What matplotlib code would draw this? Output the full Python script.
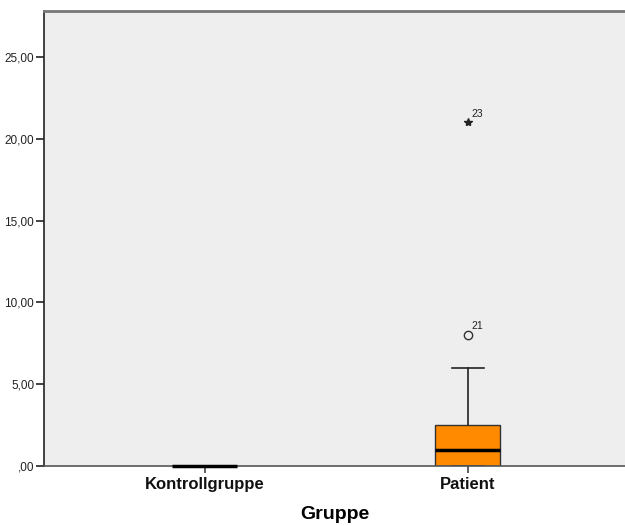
import matplotlib
matplotlib.use('Agg')
import matplotlib.pyplot as plt

plt.rcParams['font.family'] = ['Liberation Sans', 'DejaVu Sans']

# Five-number summaries per group
groups = ['Kontrollgruppe', 'Patient']
q1 = [0.0, 0.0]
medians = [0.0, 1.0]
q3 = [0.0, 2.5]
whisker_low = [0.0, 0.0]
whisker_high = [0.0, 6.0]

# Outliers (circle) and extreme values (star) with case numbers
outlier_group = [1]
outlier_value = [8.0]
outlier_case = ['21']
extreme_group = [1]
extreme_value = [21.0]
extreme_case = ['23']

yticks = [0, 5, 10, 15, 20, 25]
ytick_labels = [',00', '5,00', '10,00', '15,00', '20,00', '25,00']

stats = []
for i, name in enumerate(groups):
    stats.append({
        'label': name,
        'q1': q1[i], 'med': medians[i], 'q3': q3[i],
        'whislo': whisker_low[i], 'whishi': whisker_high[i],
        'fliers': [],
    })

fig = plt.figure(figsize=(6.25, 5.26), dpi=100)
ax = fig.add_axes([0.0704, 0.114, 0.9296, 0.865])
ax.set_facecolor('#eeeeee')

bp = ax.bxp(stats, positions=range(len(groups)), widths=0.247, patch_artist=True,
            showfliers=False,
            boxprops=dict(facecolor='#ff8a00', edgecolor='#333333', linewidth=1.0),
            medianprops=dict(color='black', linewidth=2.5),
            whiskerprops=dict(color='#222222', linewidth=1.2),
            capprops=dict(color='#222222', linewidth=1.2),
            capwidths=0.12)
for line in bp['medians']:
    line.set_zorder(5)
    line.set_clip_on(False)

ax.plot(outlier_group, outlier_value, 'o', mfc='none', mec='#333333', ms=6, mew=1.0)
ax.plot(extreme_group, extreme_value, '*', color='#222222', ms=6)
for g, v, c in zip(outlier_group, outlier_value, outlier_case):
    ax.text(g + 0.015, v + 0.35, c, fontsize=7.5, color='#222222')
for g, v, c in zip(extreme_group, extreme_value, extreme_case):
    ax.text(g + 0.015, v + 0.35, c, fontsize=7.5, color='#222222')

ax.set_xlim(-0.612, 1.597)
ax.set_ylim(0, 27.8)
ax.set_yticks(yticks)
ax.set_yticklabels(ytick_labels, fontsize=8.5, color='#222222')
ax.set_xticks(range(len(groups)))
ax.set_xticklabels(groups, fontsize=12, fontweight='bold', color='#111111')
ax.tick_params(axis='y', length=6, width=1.2, color='#222222', pad=1)
ax.tick_params(axis='x', length=5, width=1.2, color='#444444', pad=3)

ax.spines['right'].set_visible(False)
ax.spines['top'].set_color('#777777')
ax.spines['top'].set_linewidth(2)
ax.spines['left'].set_color('#222222')
ax.spines['left'].set_linewidth(1.2)
ax.spines['bottom'].set_color('#555555')
ax.spines['bottom'].set_linewidth(1.2)

ax.set_xlabel('Gruppe', fontsize=14, fontweight='bold', labelpad=10)

fig.savefig('out.png', dpi=100)
